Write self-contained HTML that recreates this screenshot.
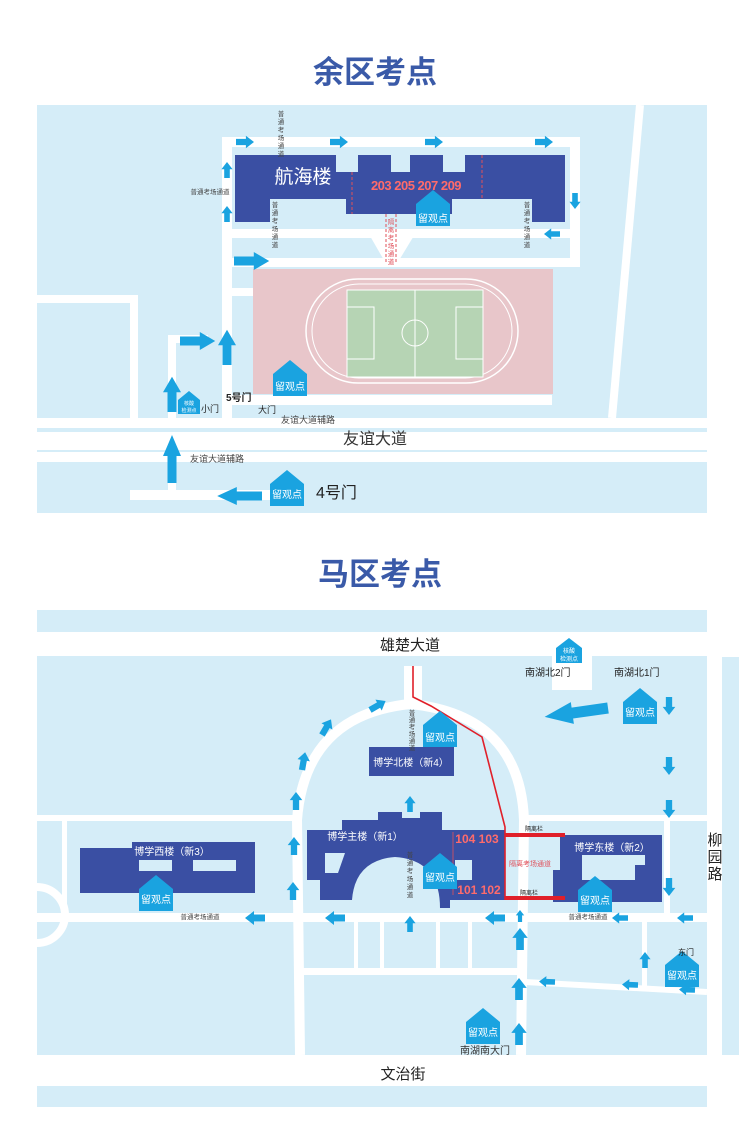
<!DOCTYPE html>
<html><head><meta charset="utf-8"><style>
html,body{margin:0;padding:0;background:#fff;}
svg{display:block;font-family:"Liberation Sans","Noto Sans CJK SC",sans-serif;}
</style></head><body>
<svg width="750" height="1122" viewBox="0 0 750 1122" xmlns="http://www.w3.org/2000/svg">
<defs>
<path id="ar" d="M0,-3.5 L11,-3.5 L11,-7 L20,0 L11,7 L11,3.5 L0,3.5 Z" fill="#1aa3e0"/>
<path id="arB" d="M0,-5 L18,-5 L18,-10 L32,0 L18,10 L18,5 L0,5 Z" fill="#1aa3e0"/>
<g id="obs"><path d="M-17,-6 L0,-20 L17,-6 L17,16 L-17,16 Z" fill="#1aa3e0"/></g>
</defs>
<rect width="750" height="1122" fill="#fff"/>
<!-- TITLE 1 -->
<text x="375" y="83" text-anchor="middle" font-size="31" font-weight="bold" fill="#3a5aa8">余区考点</text>
<!-- Panel 1 -->
<rect x="37" y="105" width="670" height="408" fill="#d5edf8"/>
<!-- diagonal right line -->
<path d="M640,105 L612,418" stroke="#fff" stroke-width="8"/>
<!-- roads top section -->
<g fill="#fff">
<rect x="222" y="137" width="358" height="10"/>
<rect x="222" y="137" width="10" height="285"/>
<rect x="570" y="137" width="10" height="130"/>
<rect x="232" y="229" width="348" height="9"/>
<rect x="232" y="258" width="348" height="9"/>
<path d="M366,229 L385,262 L398,262 L418,229 Z"/>
<rect x="232" y="288" width="22" height="8"/>
<rect x="37" y="295" width="100" height="8"/>
<rect x="130" y="295" width="8" height="130"/>
<rect x="168" y="335" width="8" height="165"/>
<rect x="168" y="335" width="40" height="8"/>
<rect x="232" y="395" width="320" height="10"/>
<rect x="37" y="418" width="670" height="10"/>
<rect x="37" y="432" width="670" height="18"/>
<rect x="37" y="452" width="670" height="10"/>
<rect x="130" y="490" width="150" height="10"/>
</g>
<rect x="37" y="428" width="670" height="4" fill="#d5edf8"/>
<rect x="37" y="450" width="240" height="2" fill="#d5edf8"/>
<rect x="315" y="450" width="392" height="2" fill="#d5edf8"/>
<!-- pink field -->
<rect x="253" y="269" width="300" height="125" fill="#e8c6ca"/>
<rect x="306" y="279" width="212" height="104" rx="52" fill="none" stroke="#fff" stroke-width="1.5"/>
<rect x="312" y="284" width="200" height="94" rx="47" fill="none" stroke="#fff" stroke-width="1"/>
<rect x="347" y="290" width="136" height="87" fill="#b6d4b4" stroke="#fff" stroke-width="1"/>
<line x1="415" y1="290" x2="415" y2="377" stroke="#fff"/>
<circle cx="415" cy="333" r="13" fill="none" stroke="#fff"/>
<rect x="347" y="307" width="27" height="52" fill="none" stroke="#fff"/>
<rect x="456" y="307" width="27" height="52" fill="none" stroke="#fff"/>
<!-- building 航海楼 -->
<path d="M235,155 L336,155 L336,172 L358,172 L358,155 L391,155 L391,172 L410,172 L410,155 L443,155 L443,172 L465,172 L465,155 L565,155 L565,222 L532,222 L532,199 L452,199 L452,214 L346,214 L346,199 L270,199 L270,222 L235,222 Z" fill="#3a4fa3"/>
<line x1="352" y1="172" x2="352" y2="214" stroke="#e0505a" stroke-dasharray="3,2"/>
<line x1="482" y1="155" x2="482" y2="199" stroke="#e0505a" stroke-dasharray="3,2"/>
<text x="303" y="183" text-anchor="middle" font-size="19" fill="#fff">航海楼</text>
<text x="416" y="190" text-anchor="middle" font-size="13" font-weight="bold" fill="#ff6b6b" letter-spacing="-0.5">203 205 207 209</text>
<g transform="translate(433,210)"><use href="#obs"/><text x="0" y="12" text-anchor="middle" font-size="10" fill="#fff">留观点</text></g>
<!-- red dashed channel -->
<line x1="386" y1="214" x2="386" y2="262" stroke="#e0505a" stroke-dasharray="3,2"/>
<line x1="396" y1="214" x2="396" y2="262" stroke="#e0505a" stroke-dasharray="3,2"/>
<text font-size="6.5" fill="#e0505a" text-anchor="middle"><tspan x="391" y="224">隔</tspan><tspan x="391" y="232">离</tspan><tspan x="391" y="240">考</tspan><tspan x="391" y="248">场</tspan><tspan x="391" y="256">通</tspan><tspan x="391" y="264">道</tspan></text>
<!-- 普通考场通道 labels -->
<g font-size="6.5" fill="#444" text-anchor="middle">
<text><tspan x="281" y="116">普</tspan><tspan x="281" y="124">通</tspan><tspan x="281" y="132">考</tspan><tspan x="281" y="140">场</tspan><tspan x="281" y="148">通</tspan><tspan x="281" y="156">道</tspan></text>
<text><tspan x="275" y="207">普</tspan><tspan x="275" y="215">通</tspan><tspan x="275" y="223">考</tspan><tspan x="275" y="231">场</tspan><tspan x="275" y="239">通</tspan><tspan x="275" y="247">道</tspan></text>
<text><tspan x="527" y="207">普</tspan><tspan x="527" y="215">通</tspan><tspan x="527" y="223">考</tspan><tspan x="527" y="231">场</tspan><tspan x="527" y="239">通</tspan><tspan x="527" y="247">道</tspan></text>
<text x="210" y="194">普通考场通道</text>
</g>
<!-- arrows top -->
<use href="#ar" transform="translate(236,142) scale(0.9)"/>
<use href="#ar" transform="translate(330,142) scale(0.9)"/>
<use href="#ar" transform="translate(425,142) scale(0.9)"/>
<use href="#ar" transform="translate(535,142) scale(0.9)"/>
<use href="#ar" transform="translate(227,178) rotate(-90) scale(0.8)"/>
<use href="#ar" transform="translate(227,222) rotate(-90) scale(0.8)"/>
<use href="#ar" transform="translate(575,193) rotate(90) scale(0.8)"/>
<use href="#ar" transform="translate(560,234) rotate(180) scale(0.8)"/>
<use href="#arB" transform="translate(234,261) scale(1.1,0.9)"/>
<use href="#arB" transform="translate(180,341) scale(1.1,0.9)"/>
<use href="#arB" transform="translate(227,365) rotate(-90) scale(1.1,0.9)"/>
<use href="#arB" transform="translate(172,412) rotate(-90) scale(1.1,0.9)"/>
<use href="#arB" transform="translate(172,483) rotate(-90) scale(1.5,0.9)"/>
<use href="#arB" transform="translate(262,496) rotate(180) scale(1.4,0.9)"/>
<!-- markers -->
<g transform="translate(290,380)"><use href="#obs"/><text x="0" y="10" text-anchor="middle" font-size="10" fill="#fff">留观点</text></g>
<g transform="translate(189,404)"><path d="M-11,-4 L0,-13 L11,-4 L11,10 L-11,10 Z" fill="#1aa3e0"/><text x="0" y="1" text-anchor="middle" font-size="5" fill="#fff">核酸</text><text x="0" y="8" text-anchor="middle" font-size="5" fill="#fff">检测点</text></g>
<g transform="translate(287,490)"><use href="#obs"/><text x="0" y="8" text-anchor="middle" font-size="10" fill="#fff">留观点</text></g>
<g fill="#222">
<text x="226" y="401" font-size="10" font-weight="bold">5号门</text>
<text x="201" y="412" font-size="9">小门</text>
<text x="258" y="413" font-size="9">大门</text>
<text x="281" y="423" font-size="9" fill="#444">友谊大道辅路</text>
<text x="375" y="444" text-anchor="middle" font-size="16" fill="#333">友谊大道</text>
<text x="190" y="462" font-size="9" fill="#444">友谊大道辅路</text>
<text x="316" y="498" font-size="16">4号门</text>
</g>
<!-- TITLE 2 -->
<text x="380" y="585" text-anchor="middle" font-size="31" font-weight="bold" fill="#3a5aa8">马区考点</text>
<!-- Panel 2 -->
<rect x="37" y="610" width="670" height="22" fill="#d5edf8"/>
<rect x="37" y="656" width="670" height="399" fill="#d5edf8"/>
<rect x="37" y="1086" width="670" height="21" fill="#d5edf8"/>
<rect x="722" y="657" width="17" height="398" fill="#d5edf8"/>
<text x="410" y="650" text-anchor="middle" font-size="15" fill="#222">雄楚大道</text>
<text x="403" y="1079" text-anchor="middle" font-size="15" fill="#222">文治街</text>
<text font-size="15" fill="#222" text-anchor="middle"><tspan x="715" y="845">柳</tspan><tspan x="715" y="862">园</tspan><tspan x="715" y="879">路</tspan></text>
<!-- roads section 2 -->
<g fill="#fff">
<rect x="37" y="913" width="670" height="9"/>
<rect x="37" y="815" width="260" height="6"/>
<rect x="524" y="815" width="186" height="6"/>
<rect x="664" y="815" width="6" height="100"/>
<rect x="300" y="968" width="224" height="7"/>
<rect x="552" y="656" width="40" height="34"/>
<rect x="404" y="666" width="18" height="38"/>
<rect x="62" y="815" width="5" height="100"/>
<rect x="354" y="922" width="4" height="48"/>
<rect x="380" y="922" width="4" height="48"/>
<rect x="436" y="922" width="4" height="48"/>
<rect x="468" y="922" width="4" height="48"/>
<rect x="642" y="922" width="5" height="68"/>
</g>
<path d="M300,1055 L297,820 Q305,715 410,704 Q520,715 524,820 L521,1055" fill="none" stroke="#fff" stroke-width="10"/>
<path d="M525,982 L707,992" stroke="#fff" stroke-width="6"/>
<circle cx="37" cy="915" r="28" fill="none" stroke="#fff" stroke-width="8"/>
<!-- buildings -->
<path d="M132,842 L255,842 L255,893 L80,893 L80,848 L132,848 Z" fill="#3a4fa3"/>
<rect x="139" y="860" width="33" height="11" fill="#d5edf8"/>
<rect x="193" y="860" width="43" height="11" fill="#d5edf8"/>
<text x="172" y="855" text-anchor="middle" font-size="10" fill="#fff">博学西楼（新3）</text>
<path d="M307,830 L342,830 L342,820 L378,820 L378,812 L402,812 L402,818 L420,818 L420,812 L442,812 L442,830 L505,830 L505,900 L450,900 L450,908 L440,908 Q440,860 395,857 Q355,860 352,900 L320,900 L320,880 L307,880 Z" fill="#3a4fa3"/>
<path d="M325,853 L345,853 L338,873 L325,873 Z" fill="#d5edf8"/>
<rect x="455" y="860" width="17" height="20" fill="#d5edf8"/>
<line x1="453" y1="832" x2="453" y2="895" stroke="#e0505a" stroke-width="0.8"/>
<text x="365" y="840" text-anchor="middle" font-size="10" fill="#fff">博学主楼（新1）</text>
<text x="477" y="843" text-anchor="middle" font-size="12" font-weight="bold" fill="#ff6b6b">104 103</text>
<text x="479" y="894" text-anchor="middle" font-size="12" font-weight="bold" fill="#ff6b6b">101 102</text>
<rect x="369" y="747" width="85" height="29" fill="#3a4fa3"/>
<text x="411" y="766" text-anchor="middle" font-size="10" fill="#fff">博学北楼（新4）</text>
<path d="M560,835 L662,835 L662,902 L553,902 L553,870 L560,870 Z" fill="#3a4fa3"/>
<path d="M582,855 L645,855 L645,865 L635,865 L635,880 L582,880 Z" fill="#d5edf8"/>
<text x="612" y="851" text-anchor="middle" font-size="10" fill="#fff">博学东楼（新2）</text>
<!-- red barrier -->
<path d="M413,666 L413,697 L431,706 L482,737 L505,827 L505,900" fill="none" stroke="#e0202a" stroke-width="1.6"/>
<rect x="505" y="833" width="60" height="4" fill="#e0202a"/>
<rect x="505" y="896" width="60" height="4" fill="#e0202a"/>
<text x="525" y="831" font-size="6" fill="#222">隔离栏</text>
<text x="520" y="895" font-size="6" fill="#222">隔离栏</text>
<text x="509" y="866" font-size="7" fill="#e0505a">隔离考场通道</text>
<!-- vertical 普通考场通道 labels -->
<g font-size="6.5" fill="#444" text-anchor="middle">
<text><tspan x="412" y="715">普</tspan><tspan x="412" y="722">通</tspan><tspan x="412" y="729">考</tspan><tspan x="412" y="736">场</tspan><tspan x="412" y="743">通</tspan><tspan x="412" y="750">道</tspan></text>
<text><tspan x="410" y="857">普</tspan><tspan x="410" y="865">通</tspan><tspan x="410" y="873">考</tspan><tspan x="410" y="881">场</tspan><tspan x="410" y="889">通</tspan><tspan x="410" y="897">道</tspan></text>
<text x="200" y="919">普通考场通道</text>
<text x="588" y="919">普通考场通道</text>
</g>
<!-- markers section 2 -->
<g transform="translate(156,895)"><use href="#obs"/><text x="0" y="8" text-anchor="middle" font-size="10" fill="#fff">留观点</text></g>
<g transform="translate(440,731)"><use href="#obs"/><text x="0" y="10" text-anchor="middle" font-size="10" fill="#fff">留观点</text></g>
<g transform="translate(440,873)"><use href="#obs"/><text x="0" y="8" text-anchor="middle" font-size="10" fill="#fff">留观点</text></g>
<g transform="translate(595,896)"><use href="#obs"/><text x="0" y="8" text-anchor="middle" font-size="10" fill="#fff">留观点</text></g>
<g transform="translate(640,708)"><use href="#obs"/><text x="0" y="8" text-anchor="middle" font-size="10" fill="#fff">留观点</text></g>
<g transform="translate(682,971)"><use href="#obs"/><text x="0" y="8" text-anchor="middle" font-size="10" fill="#fff">留观点</text></g>
<g transform="translate(483,1028)"><use href="#obs"/><text x="0" y="8" text-anchor="middle" font-size="10" fill="#fff">留观点</text></g>
<g transform="translate(569,652)"><path d="M-13,-4 L0,-14 L13,-4 L13,11 L-13,11 Z" fill="#1aa3e0"/><text x="0" y="1" text-anchor="middle" font-size="6" fill="#fff">核酸</text><text x="0" y="9" text-anchor="middle" font-size="6" fill="#fff">检测点</text></g>
<g font-size="10" fill="#222">
<text x="525" y="676">南湖北2门</text>
<text x="614" y="676">南湖北1门</text>
<text x="460" y="1054" fill="#333">南湖南大门</text>
<text x="678" y="955" font-size="8">东门</text>
</g>
<!-- arrows section 2 -->
<use href="#arB" transform="translate(608,708) rotate(172) scale(2,1.1)"/>
<use href="#ar" transform="translate(669,697) rotate(90) scale(0.9)"/>
<use href="#ar" transform="translate(669,757) rotate(90) scale(0.9)"/>
<use href="#ar" transform="translate(669,800) rotate(90) scale(0.9)"/>
<use href="#ar" transform="translate(669,878) rotate(90) scale(0.9)"/>
<use href="#ar" transform="translate(693,918) rotate(180) scale(0.8)"/>
<use href="#ar" transform="translate(628,918) rotate(180) scale(0.8)"/>
<use href="#ar" transform="translate(505,918) rotate(180) scale(1.0)"/>
<use href="#ar" transform="translate(345,918) rotate(180) scale(1.0)"/>
<use href="#ar" transform="translate(265,918) rotate(180) scale(1.0)"/>
<use href="#ar" transform="translate(410,932) rotate(-90) scale(0.8)"/>
<use href="#ar" transform="translate(410,812) rotate(-90) scale(0.8)"/>
<use href="#ar" transform="translate(293,900) rotate(-90) scale(0.9)"/>
<use href="#ar" transform="translate(294,855) rotate(-90) scale(0.9)"/>
<use href="#ar" transform="translate(296,810) rotate(-90) scale(0.9)"/>
<use href="#ar" transform="translate(302,770) rotate(-80) scale(0.9)"/>
<use href="#ar" transform="translate(322,735) rotate(-60) scale(0.9)"/>
<use href="#ar" transform="translate(370,710) rotate(-30) scale(0.9)"/>
<use href="#ar" transform="translate(519,1045) rotate(-90) scale(1.1)"/>
<use href="#ar" transform="translate(519,1000) rotate(-90) scale(1.1)"/>
<use href="#ar" transform="translate(520,950) rotate(-90) scale(1.1)"/>
<use href="#ar" transform="translate(520,922) rotate(-90) scale(0.6)"/>
<use href="#ar" transform="translate(695,990) rotate(182) scale(0.8)"/>
<use href="#ar" transform="translate(638,985) rotate(182) scale(0.8)"/>
<use href="#ar" transform="translate(555,982) rotate(182) scale(0.8)"/>
<use href="#ar" transform="translate(645,968) rotate(-90) scale(0.8)"/>
</svg>
</body></html>
